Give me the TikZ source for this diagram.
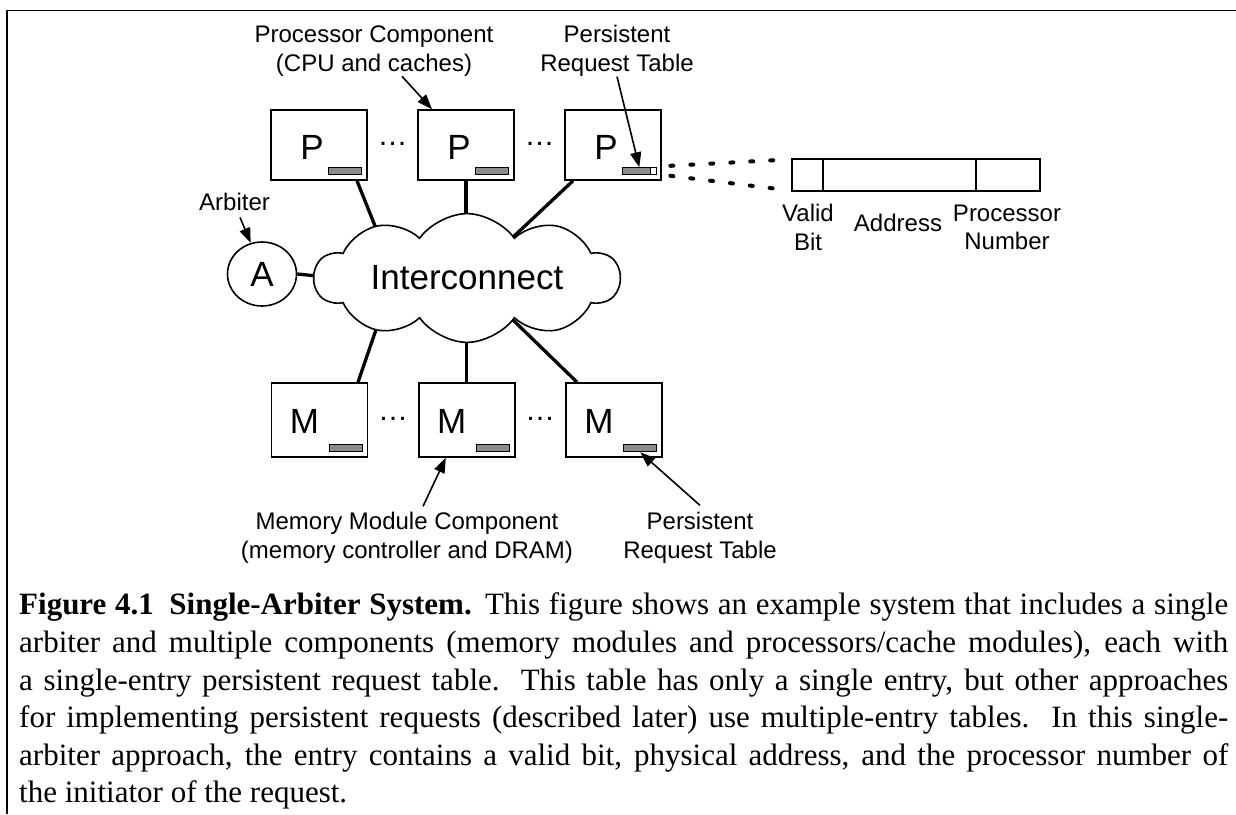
\documentclass[tikz,border=0pt]{standalone}
\usepackage{fontspec}
\setmainfont{Liberation Serif}
\newfontfamily\lsans{Liberation Sans}
\usetikzlibrary{arrows.meta,shapes.symbols,shapes.geometric,backgrounds}
\definecolor{bargray}{HTML}{8C8C8C}
\newcommand\capline[1]{\makebox[1209pt][s]{#1}}
\begin{document}
\begin{tikzpicture}[x=1pt,y=-1pt,
  compbox/.style={draw, line width=1.6pt, minimum width=96pt, minimum height=70pt, inner sep=0},
  membox/.style={compbox, minimum height=74pt},
  tablebar/.style={draw, line width=1.1pt, fill=bargray, minimum width=33pt, minimum height=7pt, inner sep=0},
  wire/.style={line width=3.3pt},
  pointer/.style={line width=1.6pt, -{Triangle[length=15pt,width=11pt]}},
  lbl/.style={font=\lsans\fontsize{24}{28.5}\selectfont, align=center, inner sep=0},
  bigtxt/.style={font=\lsans\fontsize{35}{40}\selectfont},
  cell/.style={draw, line width=1.8pt, minimum height=32pt, inner sep=0, outer sep=0},
  dotline/.style={line width=4pt, line cap=round, dash pattern=on 3pt off 17pt},
  dots/.style={font=\lsans\fontsize{30}{34}\selectfont, inner sep=0, anchor=base}
]
\useasboundingbox (0,0) rectangle (1236,814);
% frame
\draw[line width=1.7pt] (7,814) -- (7,10.5) -- (1236,10.5);

% processor boxes
\node[compbox, label={[bigtxt,inner sep=0,xshift=-7pt,yshift=-2.5pt]center:P}] (p1) at (319,145) {};
\node[compbox, label={[bigtxt,inner sep=0,xshift=-7pt,yshift=-2.5pt]center:P}] (p2) at (466,145) {};
\node[compbox, label={[bigtxt,inner sep=0,xshift=-7pt,yshift=-2.5pt]center:P}] (p3) at (613,145) {};
\node[tablebar] (bar1) at ([xshift=-22.5pt,yshift=9.5pt]p1.south east) {};
\node[tablebar] (bar2) at ([xshift=-22.5pt,yshift=9.5pt]p2.south east) {};
\node[tablebar] (bar3) at ([xshift=-22.5pt,yshift=9.5pt]p3.south east) {};
\node[draw, fill=white, line width=1pt, minimum width=6pt, minimum height=7pt, inner sep=0, outer sep=0, anchor=east] (b3end) at (bar3.east) {};
\node[dots] (d1) at (392.5,145.5) {…};
\node[dots] (d2) at (539.5,145.5) {…};

% memory boxes
\node[membox, label={[bigtxt,inner sep=0,xshift=-15pt,yshift=-1pt]center:M}] (m1) at (319.5,420) {};
\node[membox, label={[bigtxt,inner sep=0,xshift=-15pt,yshift=-1pt]center:M}] (m2) at (466.8,420) {};
\node[membox, label={[bigtxt,inner sep=0,xshift=-15pt,yshift=-1pt]center:M}] (m3) at (614,420) {};
\node[tablebar] (bar4) at ([xshift=-22.5pt,yshift=9.5pt]m1.south east) {};
\node[tablebar] (bar5) at ([xshift=-22.5pt,yshift=9.5pt]m2.south east) {};
\node[tablebar] (bar6) at ([xshift=-22.5pt,yshift=9.5pt]m3.south east) {};
\node[dots] (d3) at (393,420) {…};
\node[dots] (d4) at (540,420) {…};

% arbiter
\node[ellipse, draw, line width=1.6pt, minimum width=69pt, minimum height=64pt, inner sep=0, bigtxt] (arb) at (262,274) {A};

% interconnect cloud
\node[cloud, draw, fill=white, line width=1.6pt, cloud puffs=10, cloud puff arc=110, aspect=3.05,
      minimum width=305pt, minimum height=100pt, inner sep=0, bigtxt] (net) at (467,278) {Interconnect};

% wire end points inside the cloud
\coordinate (c1t) at (383,246);
\coordinate (c2t) at (466,236);
\coordinate (c3t) at (504.6,245);
\coordinate (c1b) at (380,318);
\coordinate (c2b) at (466.8,320);
\coordinate (c3b) at (512,319);
\coordinate (ca) at (327,277);

\begin{pgfonlayer}{background}
\draw[wire] ([xshift=38pt]p1.south) -- (c1t);
\draw[wire] (p2.south) -- (c2t);
\draw[wire] ([xshift=-40pt]p3.south) -- (c3t);
\draw[wire] ([xshift=38.5pt]m1.north) -- (c1b);
\draw[wire] (m2.north) -- (c2b);
\draw[wire] ([xshift=-37pt]m3.north) -- (c3b);
\draw[wire] (arb.east) -- (ca);
\end{pgfonlayer}

% request table
\node[cell, minimum width=31pt, anchor=west] (t1) at (792,175) {};
\node[cell, minimum width=153pt, anchor=west] (t2) at (t1.east) {};
\node[cell, minimum width=64pt, anchor=west] (t3) at (t2.east) {};
\draw[dotline] ([xshift=14pt,yshift=5.5pt]bar3.east) -- ([xshift=-14pt,yshift=-1pt]t1.north west);
\draw[dotline] ([xshift=14pt,yshift=-4.5pt]bar3.east) -- ([xshift=-14pt,yshift=2pt]t1.south west);
\node[lbl] (lvalid) at (808,227.6) {Valid\\Bit};
\node[lbl, anchor=base] (laddr) at (898,231.7) {Address};
\node[lbl] (lpnum) at (1007,227.6) {Processor\\Number};

% labels and pointers
\node[lbl] (pclab) at (374,51) {Processor Component\\(CPU and caches)};
\node[lbl] (prt1) at (617,51) {Persistent\\Request Table};
\node[lbl, anchor=base] (arblab) at (234.5,210) {Arbiter};
\node[lbl] (mmlab) at (407,538) {Memory Module Component\\(memory controller and DRAM)};
\node[lbl] (prt2) at (700,538) {Persistent\\Request Table};

\draw[pointer] ([xshift=28pt]pclab.south) -- ([xshift=-34pt]p2.north);
\draw[pointer] (prt1.south) -- (bar3.north);
\draw[pointer] ([xshift=5.5pt,yshift=-7pt]arblab.south) -- (arb.110);
\draw[pointer] ([xshift=16pt,yshift=6pt]mmlab.north) -- ([xshift=-21pt]m2.south);
\draw[pointer] ([yshift=7pt]prt2.north) -- (bar6.south);

% caption
\node[anchor=north west, inner sep=0, align=left, font=\fontsize{31}{37.6}\selectfont] (cap) at (19,592.8) {%
\capline{\textbf{Figure 4.1\hspace{0.5em}Single-Arbiter System.} This figure shows an example system that includes a single}\\
\capline{arbiter and multiple components (memory modules and processors/cache modules), each with}\\
\capline{a single-entry persistent request table.\ \ This table has only a single entry, but other approaches}\\
\capline{for implementing persistent requests (described later) use multiple-entry tables.\ \ In this single-}\\
\capline{arbiter approach, the entry contains a valid bit, physical address, and the processor number of}\\
the initiator of the request.};
\end{tikzpicture}
\end{document}
